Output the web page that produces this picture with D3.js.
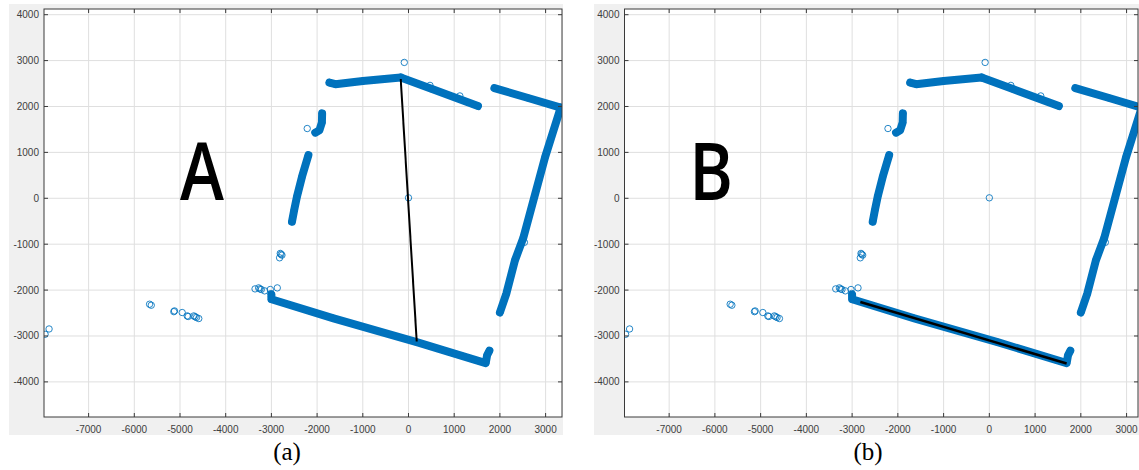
<!DOCTYPE html>
<html>
<head>
<meta charset="utf-8">
<script src="https://cdn.jsdelivr.net/npm/d3@7"></script>
<style>
  body { margin: 0; background: #ffffff; }
  svg { display: block; }
</style>
</head>
<body>
<svg id="chart" width="1139" height="470"></svg>
<script>
// tick values
const xTicks = [-7000, -6000, -5000, -4000, -3000, -2000, -1000, 0, 1000, 2000, 3000];
const yTicks = [-4000, -3000, -2000, -1000, 0, 1000, 2000, 3000, 4000];

// dense scan segments (vertices, data units)
const segTopLeft = [[-1730, 2520], [-1600, 2485], [-1000, 2555], [-170, 2630]];
const segTopRight = [[-170, 2630], [500, 2385], [1520, 2010]];
const segRightTop = [[1880, 2400], [2600, 2190], [3330, 1975]];
const segRight = [[3330, 1975], [2990, 900], [2510, -870], [2330, -1350], [2140, -2080], [2000, -2490]];
const segBottom = [[-3000, -2100], [-3000, -2200], [-1640, -2615], [180, -3135], [1690, -3590], [1720, -3420], [1770, -3320]];
const segLeftUpper = [[-1890, 1850], [-1895, 1650], [-1950, 1480], [-2040, 1430]];
const segLeftLong = [[-2190, 940], [-2330, 470], [-2440, 40], [-2500, -250], [-2550, -510]];

// sparse scan points
const outlierX = [-92, 0, -2216, 470, 1124, 2536, -1729,
  -7952, -7865, -5666, -5629, -5120, -5135, -4952, -4843, -4820, -4699, -4670, -4640, -4589,
  -3358, -3279, -3250, -3221, -3148, -3024, -2871,
  -2806, -2769, -2821, -2790, -3009, -3000, -2987];
const outlierY = [2960, 10, 1520, 2460, 2230, -960, 2524,
  -2963, -2847, -2308, -2330, -2454, -2470, -2489, -2563, -2575, -2563, -2580, -2598, -2620,
  -1974, -1952, -1975, -1987, -2017, -1987, -1952,
  -1201, -1238, -1297, -1220, -2074, -2148, -2205];

// fitted lines
const lineA = [[-170, 2600], [180, -3120]];
const lineB = [[-2820, -2260], [1690, -3600]];

const labels = ["A", "B"];
const captions = ["(a)", "(b)"];

const segments = [segTopLeft, segTopRight, segRightTop, segRight, segBottom, segLeftUpper, segLeftLong];
const blue = "#0072BD";

const svg = d3.select("#chart");

function drawPanel(idx, box, xDomain, fitLine) {
  const { bgX, bgW, left, right, top, bottom } = box;
  const g = svg.append("g");

  g.append("rect").attr("x", bgX).attr("y", 4).attr("width", bgW).attr("height", 431).attr("fill", "#f0f0f0");
  g.append("rect").attr("x", left).attr("y", top).attr("width", right - left).attr("height", bottom - top).attr("fill", "#ffffff");

  const x = d3.scaleLinear().domain(xDomain).range([left, right]);
  const y = d3.scaleLinear().domain([-4765, 4124]).range([bottom, top]);

  // grid
  g.append("g").selectAll("line").data(xTicks).join("line")
    .attr("x1", d => x(d)).attr("x2", d => x(d)).attr("y1", top).attr("y2", bottom)
    .attr("stroke", "#dfdfdf").attr("stroke-width", 1);
  g.append("g").selectAll("line").data(yTicks).join("line")
    .attr("x1", left).attr("x2", right).attr("y1", d => y(d)).attr("y2", d => y(d))
    .attr("stroke", "#dfdfdf").attr("stroke-width", 1);

  const clipId = "clip" + idx;
  g.append("clipPath").attr("id", clipId).append("rect")
    .attr("x", left).attr("y", top).attr("width", right - left).attr("height", bottom - top);
  const plot = g.append("g").attr("clip-path", `url(#${clipId})`);

  const line = d3.line().x(d => x(d[0])).y(d => y(d[1]));
  plot.append("g").selectAll("path").data(segments).join("path")
    .attr("d", line).attr("fill", "none").attr("stroke", blue)
    .attr("stroke-width", 8).attr("stroke-linecap", "round").attr("stroke-linejoin", "round");

  const pts = segments.flat().concat(outlierX.map((v, i) => [v, outlierY[i]]));
  plot.append("g").selectAll("circle").data(pts).join("circle")
    .attr("cx", d => x(d[0])).attr("cy", d => y(d[1])).attr("r", 3.2)
    .attr("fill", "none").attr("stroke", blue).attr("stroke-width", 1).attr("opacity", 0.85);

  plot.append("path").datum(fitLine).attr("d", line).attr("fill", "none")
    .attr("stroke", "#000000").attr("stroke-width", idx === 0 ? 2 : 2.5);

  // box and ticks
  g.append("rect").attr("x", left).attr("y", top).attr("width", right - left).attr("height", bottom - top)
    .attr("fill", "none").attr("stroke", "#3a3a3a").attr("stroke-width", 1);
  const tk = 4;
  const ticks = g.append("g").attr("stroke", "#3a3a3a").attr("stroke-width", 1);
  xTicks.forEach(v => {
    ticks.append("line").attr("x1", x(v)).attr("x2", x(v)).attr("y1", bottom).attr("y2", bottom - tk);
    ticks.append("line").attr("x1", x(v)).attr("x2", x(v)).attr("y1", top).attr("y2", top + tk);
  });
  yTicks.forEach(v => {
    ticks.append("line").attr("x1", left).attr("x2", left + tk).attr("y1", y(v)).attr("y2", y(v));
    ticks.append("line").attr("x1", right).attr("x2", right - tk).attr("y1", y(v)).attr("y2", y(v));
  });

  g.append("g").selectAll("text").data(xTicks).join("text")
    .attr("x", d => x(d)).attr("y", bottom + 16).attr("text-anchor", "middle")
    .attr("font-family", "Liberation Sans, Arial, sans-serif").attr("font-size", 10).attr("fill", "#404040")
    .text(d => d);
  g.append("g").selectAll("text").data(yTicks).join("text")
    .attr("x", left - 5).attr("y", d => y(d) + 3.5).attr("text-anchor", "end")
    .attr("font-family", "Liberation Sans, Arial, sans-serif").attr("font-size", 10).attr("fill", "#404040")
    .text(d => d);

  // big letter, squeezed horizontally to match the narrow original glyph
  g.append("text").attr("transform", `translate(${box.labelX},200) scale(0.83,1)`)
    .attr("text-anchor", "middle")
    .attr("font-family", "Open Sans, sans-serif").attr("font-weight", 600).attr("font-size", 80)
    .attr("fill", "#000").text(labels[idx]);

  g.append("text").attr("x", box.capX).attr("y", 460).attr("text-anchor", "middle")
    .attr("font-family", "Liberation Serif, Times New Roman, serif").attr("font-size", 25)
    .attr("fill", "#000").text(captions[idx]);
}

drawPanel(0, { bgX: 9, bgW: 554, left: 44, right: 562, top: 9, bottom: 417, labelX: 202, capX: 287 }, [-7976, 3359], lineA);
drawPanel(1, { bgX: 594, bgW: 545, left: 624.5, right: 1138, top: 9, bottom: 417, labelX: 711, capX: 868 }, [-7976, 3250], lineB);
</script>
</body>
</html>
